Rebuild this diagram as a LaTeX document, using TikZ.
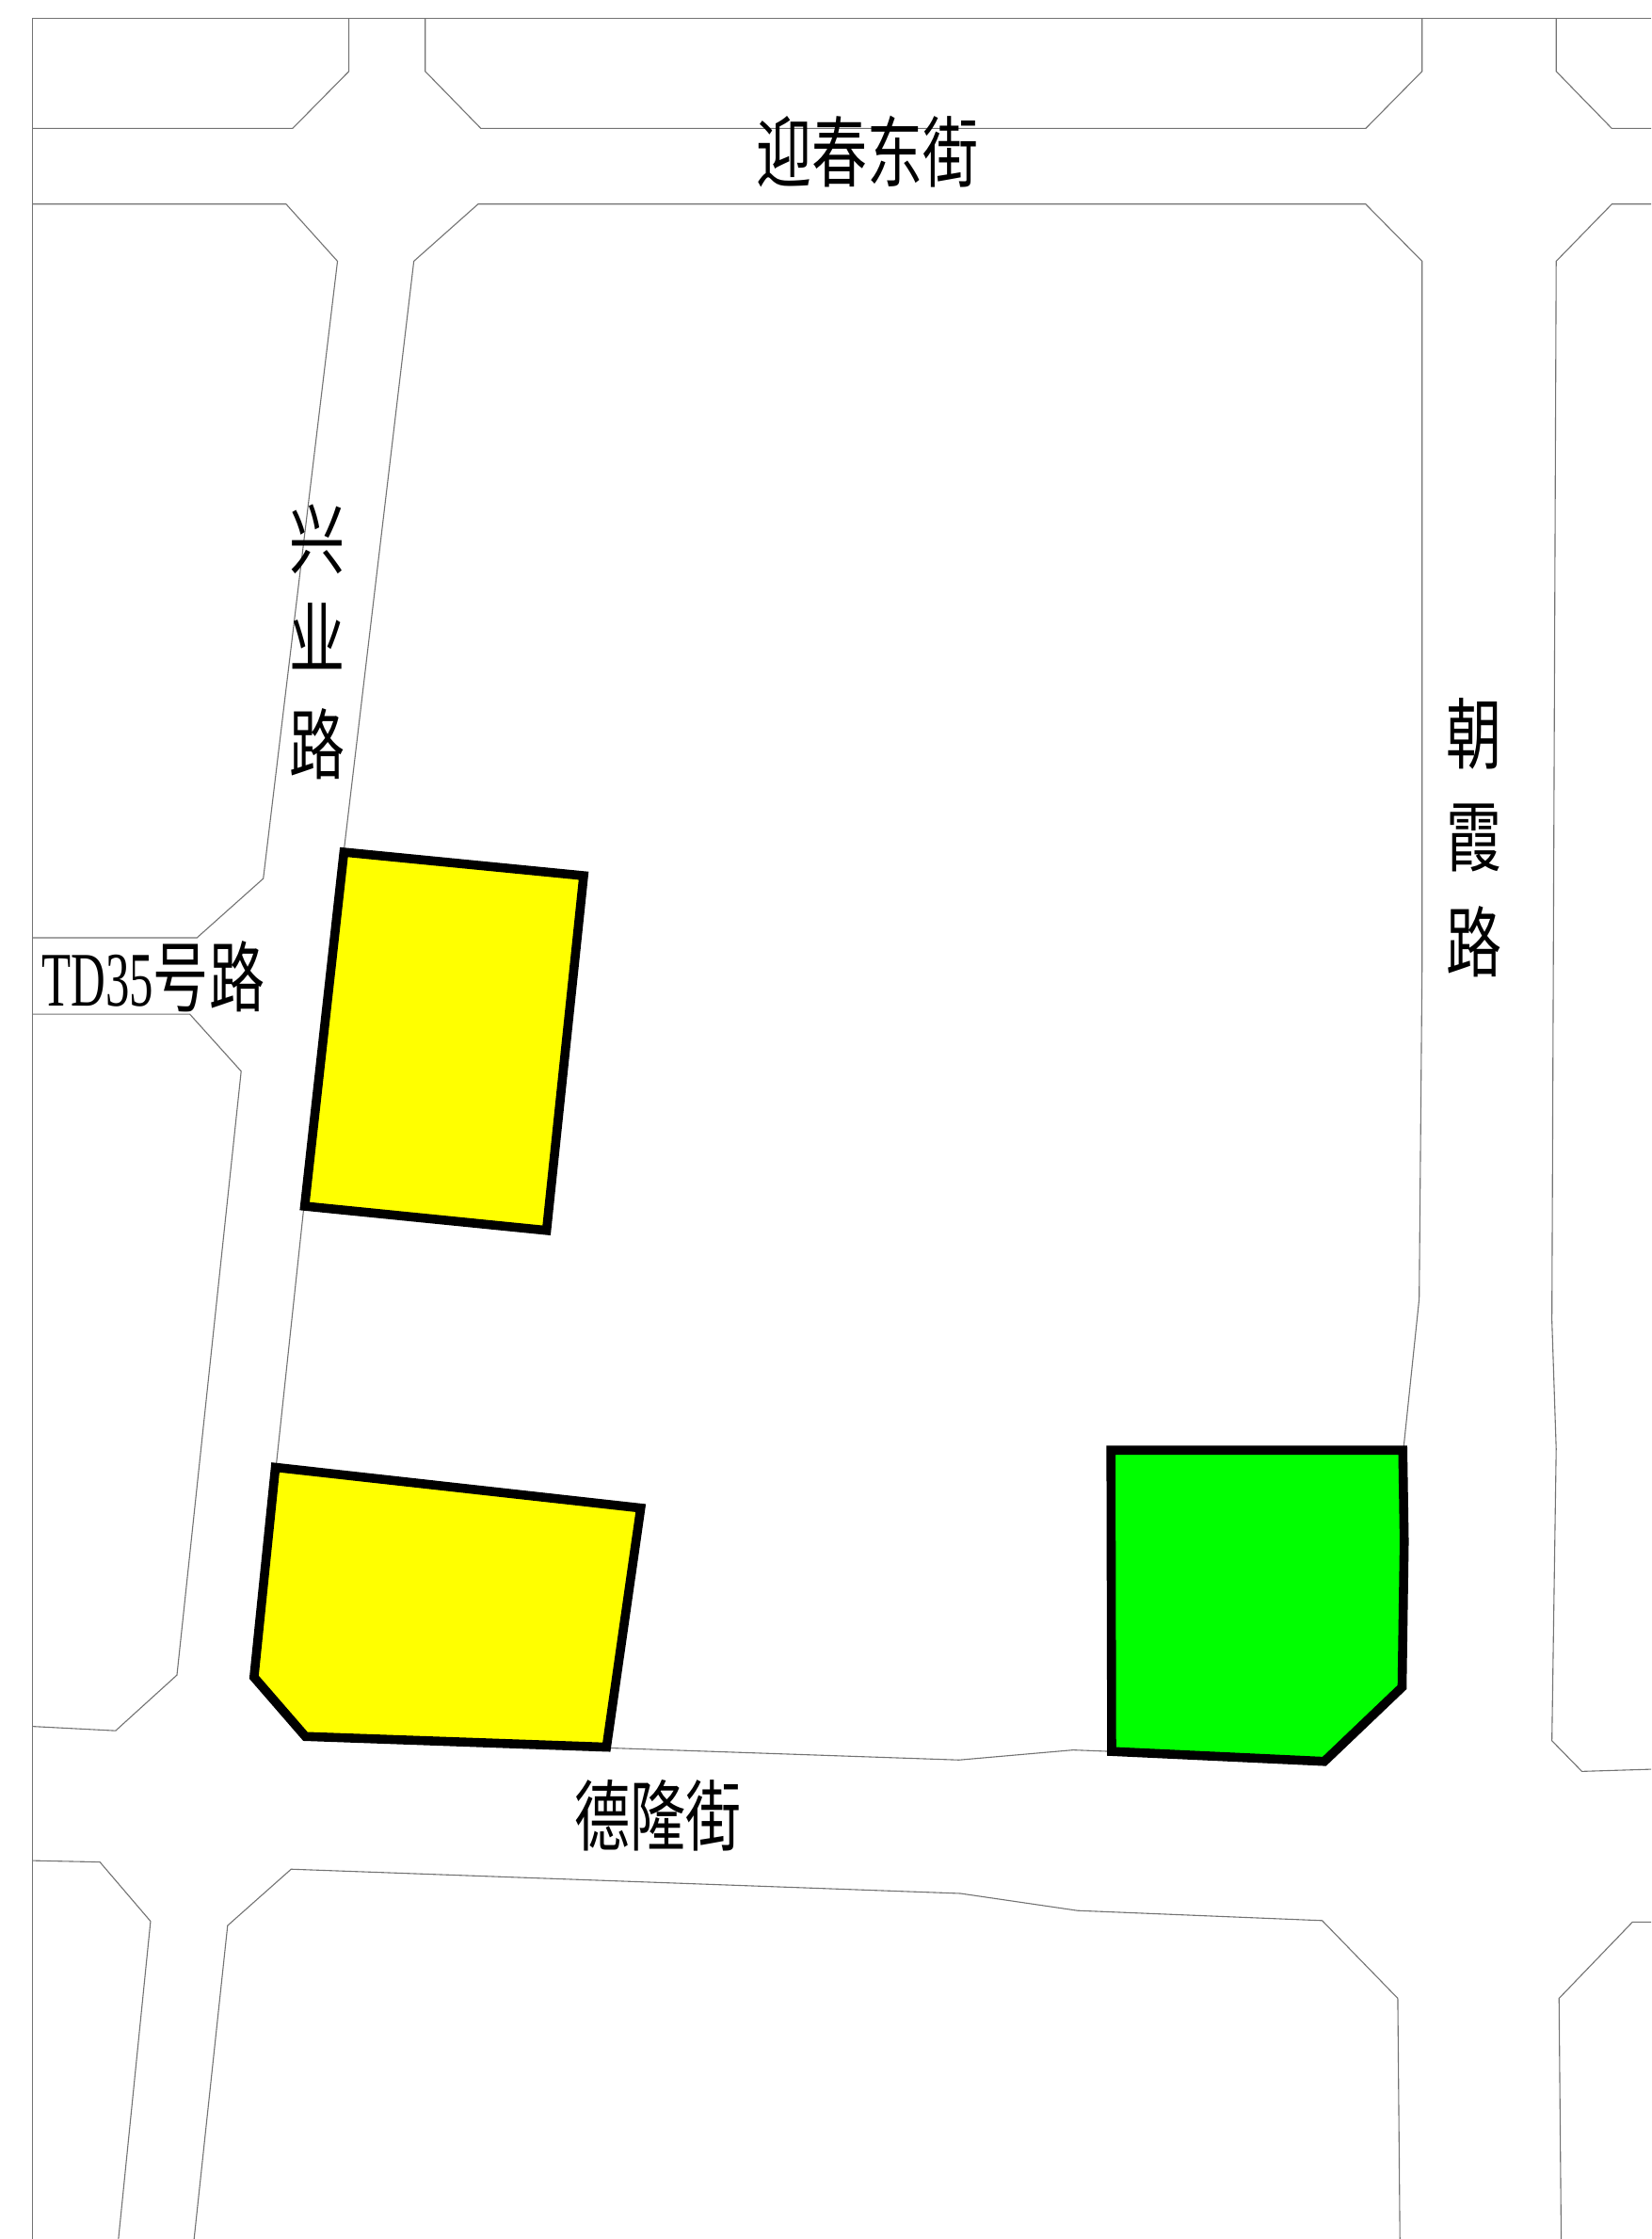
\documentclass[tikz,border=0pt]{standalone}
\usepackage{fontspec}
\newfontfamily\cjkn[FakeStretch=0.72]{Noto Sans CJK SC}
\newfontfamily\latn[FakeStretch=0.62]{Liberation Serif}
\tikzset{
 road/.style={draw=black!55,line width=0.55pt,line join=miter},
 plot/.style={draw=black,line width=4.8pt,line join=miter},
 lab/.style={inner sep=0pt,font=\fontsize{41}{41}\selectfont\cjkn},
}
\definecolor{plotyellow}{RGB}{255,255,0}
\definecolor{plotgreen}{RGB}{0,255,0}
\begin{document}
\begin{tikzpicture}[x=0.758pt,y=-0.758pt]
\useasboundingbox (0,0) rectangle (1157,1568.6);
\fill[white] (0,0) rectangle (1157,1568.6);
% frame
\draw[road] (23,1568.6) -- (23,13) -- (1157,13);
% upper row
\draw[road] (23,90) -- (205,90) -- (244.5,50) -- (244.5,13);
\draw[road] (298,13) -- (298,50) -- (337,90) -- (957,90) -- (996.5,50) -- (996.5,13);
\draw[road] (1090.5,13) -- (1090.5,50) -- (1129.5,90) -- (1157,90);
% west blocks
\draw[road] (23,143) -- (200.5,143) -- (236.5,183) -- (184.5,615.5) -- (138,657) -- (23,657);
\draw[road] (23,710.5) -- (133,710.5) -- (169,750.5) -- (124,1173.5) -- (81,1212.5) -- (23,1209.5);
% central block
\draw[road] (193.5,1027) -- (213,845);
\draw[road] (241,596) -- (290,183) -- (335,143) -- (957,143) -- (996.5,183) -- (996.5,680) -- (994.5,910) -- (983.5,1015);
\draw[road] (425,1224.5) -- (672,1233) -- (752,1226) -- (778,1227);
% east block
\draw[road] (1157,143) -- (1129.5,143) -- (1090.5,183) -- (1087.5,925) -- (1090.5,1015) -- (1087.5,1219.5) -- (1108.5,1241) -- (1157,1239.5);
% south blocks
\draw[road] (23,1303.5) -- (70,1304.5) -- (105.5,1346) -- (83,1568.6);
\draw[road] (136,1568.6) -- (159.5,1349) -- (204,1309.5) -- (673,1326.5) -- (755,1338.5) -- (926.5,1345.5) -- (979.5,1400) -- (981,1568.6);
\draw[road] (1157,1346.5) -- (1144,1346.5) -- (1092.5,1400) -- (1094,1568.6);
% plots
\filldraw[plot,fill=plotyellow] (241,597) -- (409,613.5) -- (383,862) -- (213.5,845) -- cycle;
\filldraw[plot,fill=plotyellow] (193,1028) -- (449,1056.5) -- (425,1224) -- (214,1216.5) -- (178,1175) -- cycle;
\filldraw[plot,fill=plotgreen] (778.5,1016) -- (983,1016) -- (984,1080) -- (982.5,1182) -- (928,1234) -- (779,1227) -- cycle;
% labels
\node[lab] (yc) at (608,106) {迎春东街};
\node[lab] (dl) at (461,1272) {德隆街};
\node[lab] (xy1) at (222,378) {兴};
\node[lab] (xy2) at (222,446) {业};
\node[lab] (xy3) at (222,521) {路};
\node[lab] (cx1) at (1033,514) {朝};
\node[lab] (cx2) at (1033,587) {霞};
\node[lab] (cx3) at (1033,660) {路};
\node[lab,anchor=west] (td) at (29,684) {{\latn TD35}号路};
\end{tikzpicture}
\end{document}
